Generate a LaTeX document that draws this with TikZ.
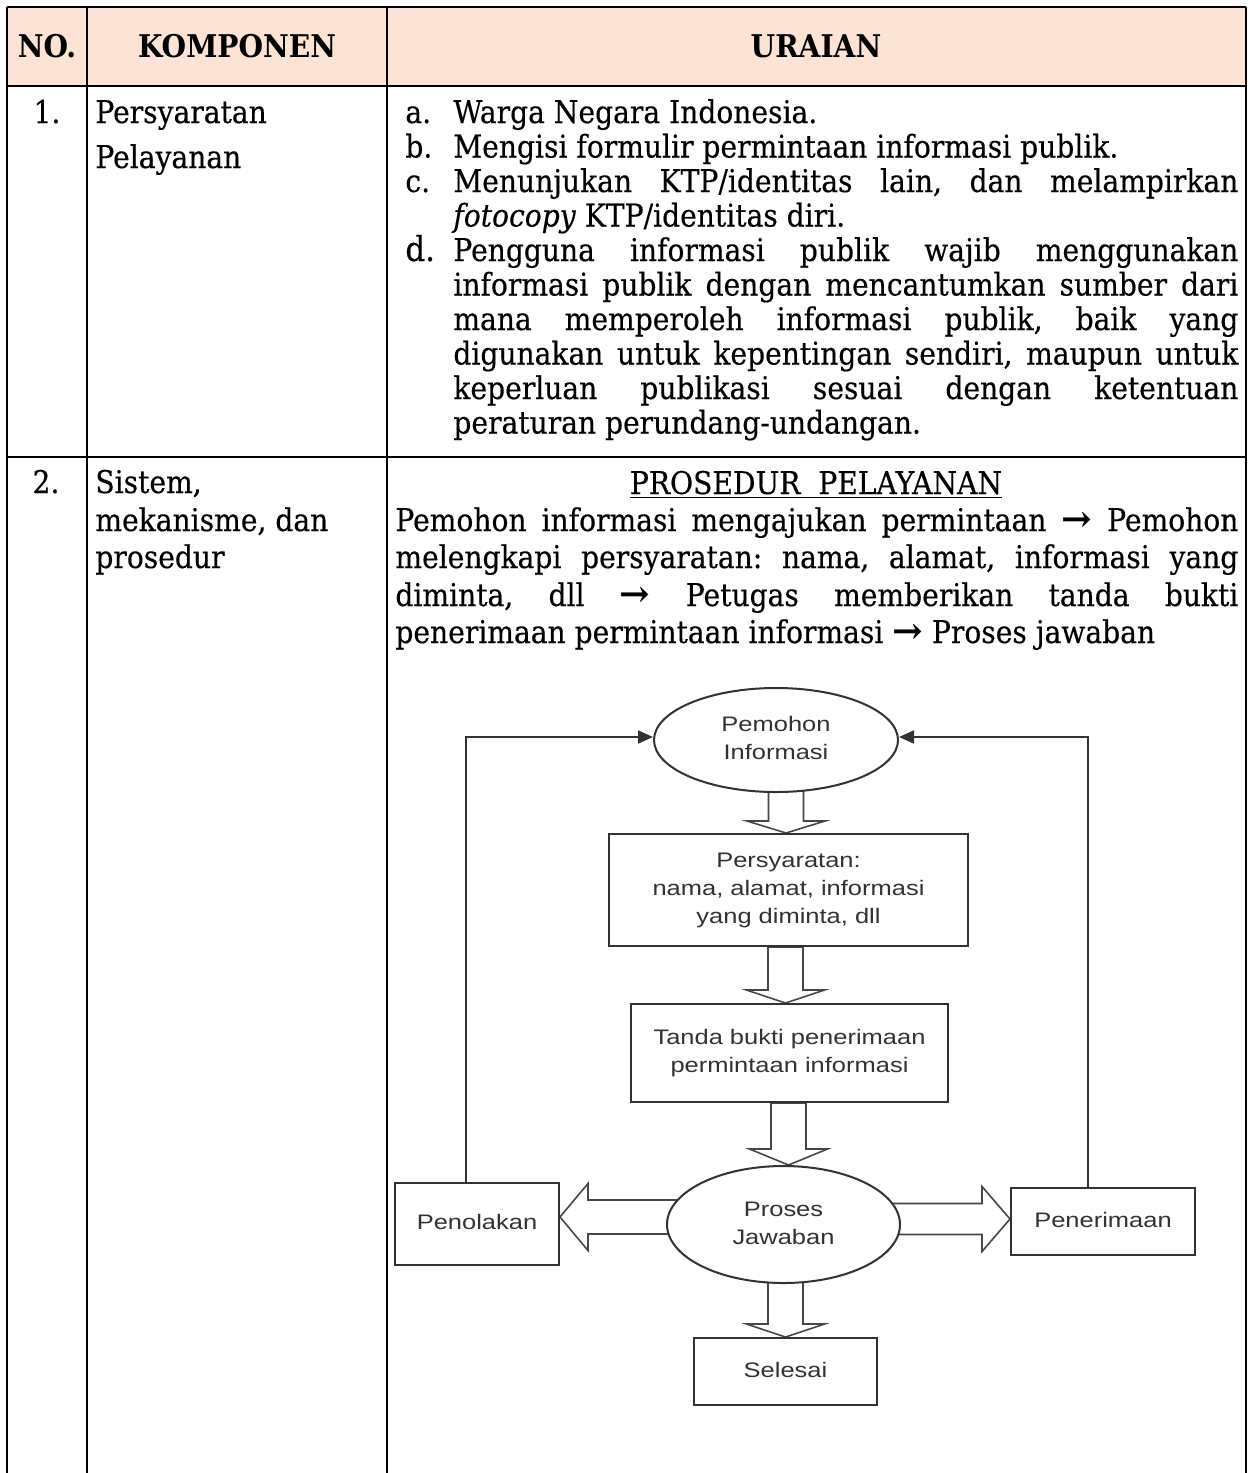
\documentclass[tikz,border=0pt]{standalone}
\usepackage{fontspec}
\setmainfont{DejaVu Serif}[FakeStretch=0.9,UprightFeatures={FakeBold=0.4},ItalicFeatures={FakeBold=0.4}]
\newfontfamily\fcfam{Liberation Sans}
\usepackage{graphicx}
\usetikzlibrary{calc,arrows.meta,shapes.geometric}
\definecolor{hdr}{RGB}{251,228,213}
\definecolor{fcgray}{RGB}{50,50,50}
\definecolor{blkgray}{RGB}{70,70,70}
\newlength\tmpw
\newcommand\jl[1]{\makebox[392.5pt][s]{#1}}
\newcommand\jm[1]{\makebox[421.5pt][s]{#1}}
\newcommand\fcfont{\fcfam\fontsize{10.5pt}{14pt}\selectfont}
\newcommand\fct[1]{\scalebox{\fcx}[1]{\fcfont\begin{tabular}{@{}c@{}}#1\end{tabular}}}
\newcommand\arr{\scalebox{1.3}[1.15]{\textbf{→}}}
\pgfdeclarelayer{bg}
\pgfsetlayers{bg,main}
\frenchspacing
\begin{document}
\settowidth{\tmpw}{\fontsize{10pt}{12pt}\selectfont Mengisi formulir permintaan informasi publik.}
\pgfmathsetmacro\bsz{10*332.5/\tmpw}
\pgfmathsetmacro\dsz{1.1*\bsz}
\def\bfnt{\fontsize{\bsz pt}{\bsz pt}\selectfont}
\def\dfnt{\fontsize{\dsz pt}{\bsz pt}\selectfont}
\settowidth{\tmpw}{\fcfont Tanda bukti penerimaan}
\pgfmathsetmacro\fcx{136/\tmpw}
\begin{tikzpicture}[x=0.5pt,y=-0.5pt,
  tline/.style={line width=1pt,black},
  txt/.style={anchor=base west,inner sep=0pt,font=\bfnt},
  ctxt/.style={anchor=base,inner sep=0pt,font=\bfnt},
  htxt/.style={anchor=base,inner sep=0pt,font=\bfnt\bfseries},
  fcbox/.style={draw=fcgray,line width=1pt,fill=white,rectangle,inner sep=0pt,text=fcgray},
  fcell/.style={draw=fcgray,line width=1pt,fill=white,ellipse,inner sep=0pt,text=fcgray},
  fb/.style={draw=fcgray,line width=1pt,-{Triangle[length=7.5pt,width=6.5pt]}},
  blk/.style={draw=blkgray,line width=0.8pt,fill=white,line join=miter}]
\useasboundingbox (0,0) rectangle (1249,1473);
% table
\fill[hdr] (7,7) rectangle (1246,86);
\draw[tline] (7,7) -- (1246,7);
\draw[tline] (7,7) -- (7,1473);
\draw[tline] (87,7) -- (87,1473);
\draw[tline] (387,7) -- (387,1473);
\draw[tline] (1246,7) -- (1246,1473);
\draw[tline,line width=1.1pt] (7,86) -- (1246,86);
\draw[tline,line width=1.2pt] (7,457) -- (1246,457);
% header
\node[htxt] (hno) at (47,57) {NO.};
\node[htxt] (hkomp) at (237,57) {KOMPONEN};
\node[htxt] (hur) at (816,57) {URAIAN};
% row 1
\node[ctxt] (n1) at (47,123) {1.};
\node[txt] (k1a) at (95,123) {Persyaratan};
\node[txt] (k1b) at (95,168) {Pelayanan};
\node[txt] (la) at (405,123) {a.};
\node[txt] (ta) at (453,123) {Warga Negara Indonesia.};
\node[txt] (lb) at (405,157.5) {b.};
\node[txt] (tb) at (453,157.5) {Mengisi formulir permintaan informasi publik.};
\node[txt] (lc) at (405,192) {c.};
\node[txt] (tc1) at (453,192) {\jl{Menunjukan KTP/identitas lain, dan melampirkan}};
\node[txt] (tc2) at (453,226.5) {\textit{fotocopy} KTP/identitas diri.};
\node[txt,font=\dfnt] (ld) at (405,261) {d.};
\node[txt] (td1) at (453,261) {\jl{Pengguna informasi publik wajib menggunakan}};
\node[txt] (td2) at (453,295.5) {\jl{informasi publik dengan mencantumkan sumber dari}};
\node[txt] (td3) at (453,330) {\jl{mana memperoleh informasi publik, baik yang}};
\node[txt] (td4) at (453,364.5) {\jl{digunakan untuk kepentingan sendiri, maupun untuk}};
\node[txt] (td5) at (453,399) {\jl{keperluan publikasi sesuai dengan ketentuan}};
\node[txt] (td6) at (453,433.5) {peraturan perundang-undangan.};
% row 2
\node[ctxt] (n2) at (46,493) {2.};
\node[txt] (k2a) at (95,493) {Sistem,};
\node[txt] (k2b) at (95,531) {mekanisme, dan};
\node[txt] (k2c) at (95,568) {prosedur};
\node[ctxt] (title) at (816,494) {\underline{PROSEDUR\ \ PELAYANAN}};
\node[txt] (p1) at (395,531) {\jm{Pemohon informasi mengajukan permintaan \arr{} Pemohon}};
\node[txt] (p2) at (395,568) {\jm{melengkapi persyaratan: nama, alamat, informasi yang}};
\node[txt] (p3) at (395,606) {\jm{diminta, dll \arr{} Petugas memberikan tanda bukti}};
\node[txt] (p4) at (395,643) {penerimaan permintaan informasi \arr{} Proses jawaban};
% flowchart nodes
\node[fcell,minimum width=122pt,minimum height=52pt] (pem) at (776,740) {\fct{Pemohon\\Informasi}};
\node[fcbox,minimum width=179.5pt,minimum height=56pt] (syarat) at (788.5,890) {\fct{Persyaratan:\\nama, alamat, informasi\\yang diminta, dll}};
\node[fcbox,minimum width=158.5pt,minimum height=49pt] (tanda) at (789.5,1053) {\fct{Tanda bukti penerimaan\\permintaan informasi}};
\node[fcell,minimum width=116.5pt,minimum height=58.5pt] (proses) at (783.5,1224.5) {\fct{Proses\\Jawaban}};
\node[fcbox,minimum width=82pt,minimum height=41pt] (tolak) at (477,1224) {\fct{Penolakan}};
\node[fcbox,minimum width=92pt,minimum height=33.5pt] (terima) at (1103,1221.5) {\fct{Penerimaan}};
\node[fcbox,minimum width=91.5pt,minimum height=33.5pt] (selesai) at (785.5,1371.5) {\fct{Selesai}};
% block arrows (behind nodes)
\coordinate (s1) at ($(pem.south)+(10,-14)$);
\coordinate (t1) at ($(syarat.north)+(-2.5,0)$);
\coordinate (s2) at (syarat.south);
\coordinate (t2) at ($(tanda.north)+(-4,0)$);
\coordinate (s3) at (tanda.south);
\coordinate (t3) at ($(proses.north)+(5,0)$);
\coordinate (s4) at ($(proses.south)+(0,-14)$);
\coordinate (t4) at (selesai.north);
\coordinate (tl) at ($(tolak.east)+(0,-7)$);
\coordinate (sl) at ($(proses.west)+(25,0)$);
\coordinate (tr) at ($(terima.west)+(0,-2.5)$);
\coordinate (sr) at ($(proses.east)+(-25,0)$);
\begin{pgfonlayer}{bg}
\foreach \s/\t/\h in {s1/t1/12,s2/t2/13,s3/t3/16,s4/t4/13}{
  \draw[blk] ($(\t |- \s)+(-17.5,0)$) -- ($(\t)+(-17.5,-\h)$) -- ($(\t)+(-39,-\h)$) -- (\t)
    -- ($(\t)+(39,-\h)$) -- ($(\t)+(17.5,-\h)$) -- ($(\t |- \s)+(17.5,0)$) -- cycle;
}
\draw[blk] ($(sl |- tl)+(0,-17)$) -- ($(tl)+(28,-17)$) -- ($(tl)+(28,-33.5)$) -- (tl)
  -- ($(tl)+(28,33.5)$) -- ($(tl)+(28,17)$) -- ($(sl |- tl)+(0,17)$) -- cycle;
\draw[blk] ($(sr |- tr)+(0,-15.5)$) -- ($(tr)+(-28,-15.5)$) -- ($(tr)+(-28,-32.5)$) -- (tr)
  -- ($(tr)+(-28,32.5)$) -- ($(tr)+(-28,15.5)$) -- ($(sr |- tr)+(0,15.5)$) -- cycle;
\end{pgfonlayer}
% feedback connectors
\coordinate (lcor) at (466,737);
\coordinate (rcor) at (1088,737);
\draw[fb] (tolak.north -| lcor) -- (lcor) -- (lcor -| pem.west);
\draw[fb] (terima.north -| rcor) -- (rcor) -- (rcor -| pem.east);
\end{tikzpicture}
\end{document}
